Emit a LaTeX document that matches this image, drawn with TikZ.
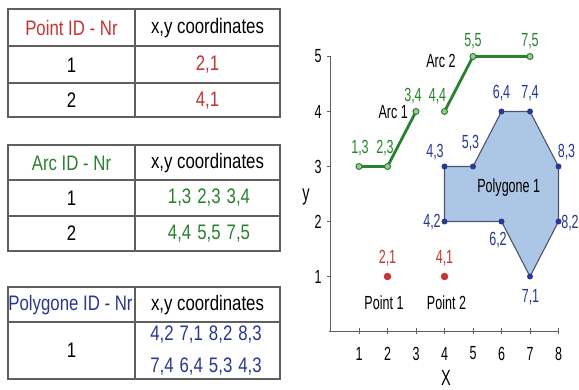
\documentclass[tikz,border=0pt]{standalone}
\usepackage{fontspec}
\setmainfont{Liberation Sans}[FakeStretch=0.8]
\newfontfamily\plotfont{Liberation Sans}[FakeStretch=0.66]
\definecolor{ptred}{RGB}{196,52,52}
\definecolor{arcgreen}{RGB}{40,130,45}
\definecolor{polyblue}{RGB}{40,55,145}
\definecolor{polyfill}{RGB}{172,198,230}
\definecolor{gridgray}{RGB}{95,95,95}
\tikzset{
  tbl/.style={draw=gridgray, line width=1.4pt},
  hdr/.style={font=\fontsize{21}{24}\selectfont, inner sep=0pt},
  val/.style={font=\fontsize{21}{24}\selectfont, inner sep=0pt},
  lbl/.style={font=\plotfont\fontsize{19}{21}\selectfont, inner sep=0pt},
  axis/.style={draw=gridgray, line width=1.3pt},
  arcline/.style={draw=arcgreen, line width=2.8pt},
  arcdot/.style={circle, draw=arcgreen, fill=arcgreen!45!white, line width=1pt, minimum size=6pt, inner sep=0pt},
  polydot/.style={circle, fill=polyblue, minimum size=6pt, inner sep=0pt},
  ptdot/.style={circle, fill=ptred, minimum size=7.5pt, inner sep=0pt},
}
\begin{document}
\begin{tikzpicture}[x=1pt,y=-1pt]
\useasboundingbox (0,0) rectangle (579,390);
\fill[white] (0,0) rectangle (579,390);
% ---------- Table 1 : points
\draw[tbl] (8,9) rectangle (280,117);
\draw[tbl] (135,9) -- (135,117);
\draw[tbl] (8,46) -- (280,46);
\draw[tbl] (8,83) -- (280,83);
\node[hdr, text=ptred] (t1h1) at (71.5,28) {Point ID - Nr};
\node[hdr] (t1h2) at (207.5,28) {x,y coordinates};
\node[val] (t1r1a) at (71.5,65) {1};
\node[val, text=ptred] (t1r1b) at (207.5,65) {2,1};
\node[val] (t1r2a) at (71.5,100.5) {2};
\node[val, text=ptred] (t1r2b) at (207.5,100.5) {4,1};
% ---------- Table 2 : arcs
\draw[tbl] (8,145) rectangle (280,251);
\draw[tbl] (135,145) -- (135,251);
\draw[tbl] (8,180) -- (280,180);
\draw[tbl] (8,216) -- (280,216);
\node[hdr, text=arcgreen] (t2h1) at (71.5,163) {Arc ID - Nr};
\node[hdr] (t2h2) at (207.5,163) {x,y coordinates};
\node[val] (t2r1a) at (71.5,198) {1};
\node[val, text=arcgreen] (t2r1b) at (209,198) {1,3\hspace{6pt}2,3\hspace{6pt}3,4};
\node[val] (t2r2a) at (71.5,233.5) {2};
\node[val, text=arcgreen] (t2r2b) at (209,233.5) {4,4\hspace{6pt}5,5\hspace{6pt}7,5};
% ---------- Table 3 : polygons
\draw[tbl] (8,287) rectangle (280,379);
\draw[tbl] (135,287) -- (135,379);
\draw[tbl] (8,322) -- (280,322);
\node[hdr, text=polyblue] (t3h1) at (70.5,305) {Polygone ID - Nr};
\node[hdr] (t3h2) at (207.5,305) {x,y coordinates};
\node[val] (t3r1a) at (71.5,350.5) {1};
\node[val, text=polyblue] (t3r1b) at (206,335) {4,2\hspace{6pt}7,1\hspace{6pt}8,2\hspace{6pt}8,3};
\node[val, text=polyblue] (t3r1c) at (206,366.5) {7,4\hspace{6pt}6,4\hspace{6pt}5,3\hspace{6pt}4,3};
% ---------- Plot
\begin{scope}[shift={(330.5,331.5)}, x=28.5pt, y=55pt]
  % axes
  \coordinate (o) at (0,0);
  \coordinate (xl) at (-0.06,0);
  \coordinate (xe) at (8,0);
  \coordinate (ye) at (0,5);
  \draw[axis] (xl) -- (xe);
  \draw[axis] (o) -- (ye);
  \foreach \i in {1,...,8} {
    \draw[axis, line width=1pt] ([yshift=3pt]\i,0) -- ([yshift=-3pt]\i,0);
    \node[lbl] (xt\i) at ([yshift=-22pt]\i,0) {\i};
  }
  \foreach \j in {1,...,5} {
    \draw[axis, line width=1pt] (0,\j) -- ([xshift=-4pt]0,\j);
    \node[lbl] (yt\j) at ([xshift=-12.5pt]0,\j) {\j};
  }
  \node[font=\plotfont\fontsize{22}{24}\selectfont, inner sep=0pt] (xlab) at ([yshift=-46.5pt]4.05,0) {X};
  \node[font=\plotfont\fontsize{22}{24}\selectfont, inner sep=0pt] (ylab) at ([xshift=-24.5pt]0,2.45) {y};
  % polygon
  \coordinate (p42) at (4,2); \coordinate (p62) at (6,2); \coordinate (p71) at (7,1);
  \coordinate (p82) at (8,2); \coordinate (p83) at (8,3); \coordinate (p74) at (7,4);
  \coordinate (p64) at (6,4); \coordinate (p53) at (5,3); \coordinate (p43) at (4,3);
  \filldraw[fill=polyfill, draw=gridgray!70!polyblue, line width=1.1pt]
    (p42) -- (p62) -- (p71) -- (p82) -- (p83) -- (p74) -- (p64) -- (p53) -- (p43) -- cycle;
  \foreach \p in {p42,p62,p71,p82,p83,p74,p64,p53,p43} \node[polydot] (d\p) at (\p) {};
  % arcs
  \coordinate (a13) at (1,3); \coordinate (a23) at (2,3); \coordinate (a34) at (3,4);
  \coordinate (a44) at (4,4); \coordinate (a55) at (5,5); \coordinate (a75) at (7,5);
  \draw[arcline] (a13) -- (a23) -- (a34);
  \draw[arcline] (a44) -- (a55) -- (a75);
  \foreach \p in {a13,a23,a34,a44,a55,a75} \node[arcdot] (d\p) at (\p) {};
  % points
  \coordinate (q21) at (2,1); \coordinate (q41) at (4,1);
  \node[ptdot] (dq21) at (q21) {};
  \node[ptdot] (dq41) at (q41) {};
  % labels
  \node[lbl] (larc1) at ([xshift=-8.5pt,yshift=-1pt]2.5,4) {Arc 1};
  \node[lbl] (larc2) at ([xshift=-3.5pt,yshift=-4pt]4,5) {Arc 2};
  \node[lbl, text=arcgreen] (l13) at ([xshift=1pt,yshift=18pt]1,3) {1,3};
  \node[lbl, text=arcgreen] (l23) at ([xshift=-2.5pt,yshift=18pt]2,3) {2,3};
  \node[lbl, text=arcgreen] (l34) at ([xshift=-3pt,yshift=15pt]3,4) {3,4};
  \node[lbl, text=arcgreen] (l44) at ([xshift=-7pt,yshift=15pt]4,4) {4,4};
  \node[lbl, text=arcgreen] (l55) at ([xshift=0pt,yshift=15.5pt]5,5) {5,5};
  \node[lbl, text=arcgreen] (l75) at ([xshift=0pt,yshift=15.5pt]7,5) {7,5};
  \node[lbl, text=polyblue] (l64) at ([yshift=18pt]6,4) {6,4};
  \node[lbl, text=polyblue] (l74) at ([yshift=18pt]7,4) {7,4};
  \node[lbl, text=polyblue] (l53) at ([xshift=-2.5pt,yshift=23pt]5,3) {5,3};
  \node[lbl, text=polyblue] (l43) at ([xshift=-9.5pt,yshift=14.5pt]4,3) {4,3};
  \node[lbl, text=polyblue] (l83) at ([xshift=8pt,yshift=14.5pt]8,3) {8,3};
  \node[lbl, text=polyblue] (l42) at ([xshift=-12.5pt,yshift=-0.5pt]4,2) {4,2};
  \node[lbl, text=polyblue] (l62) at ([xshift=-3.5pt,yshift=-19pt]6,2) {6,2};
  \node[lbl, text=polyblue] (l82) at ([xshift=11.5pt,yshift=-1.5pt]8,2) {8,2};
  \node[lbl, text=polyblue] (l71) at ([xshift=0.5pt,yshift=-20.5pt]7,1) {7,1};
  \node[lbl] (lpoly) at ([xshift=-7pt,yshift=-21pt]6.5,3) {Polygone 1};
  \node[lbl, text=ptred] (l21) at ([yshift=18.5pt]2,1) {2,1};
  \node[lbl, text=ptred] (l41) at ([yshift=18.5pt]4,1) {4,1};
  \node[lbl] (lp1) at ([xshift=-3.5pt,yshift=-26.5pt]2,1) {Point 1};
  \node[lbl] (lp2) at ([xshift=2pt,yshift=-26.5pt]4,1) {Point 2};
\end{scope}
\end{tikzpicture}
\end{document}
